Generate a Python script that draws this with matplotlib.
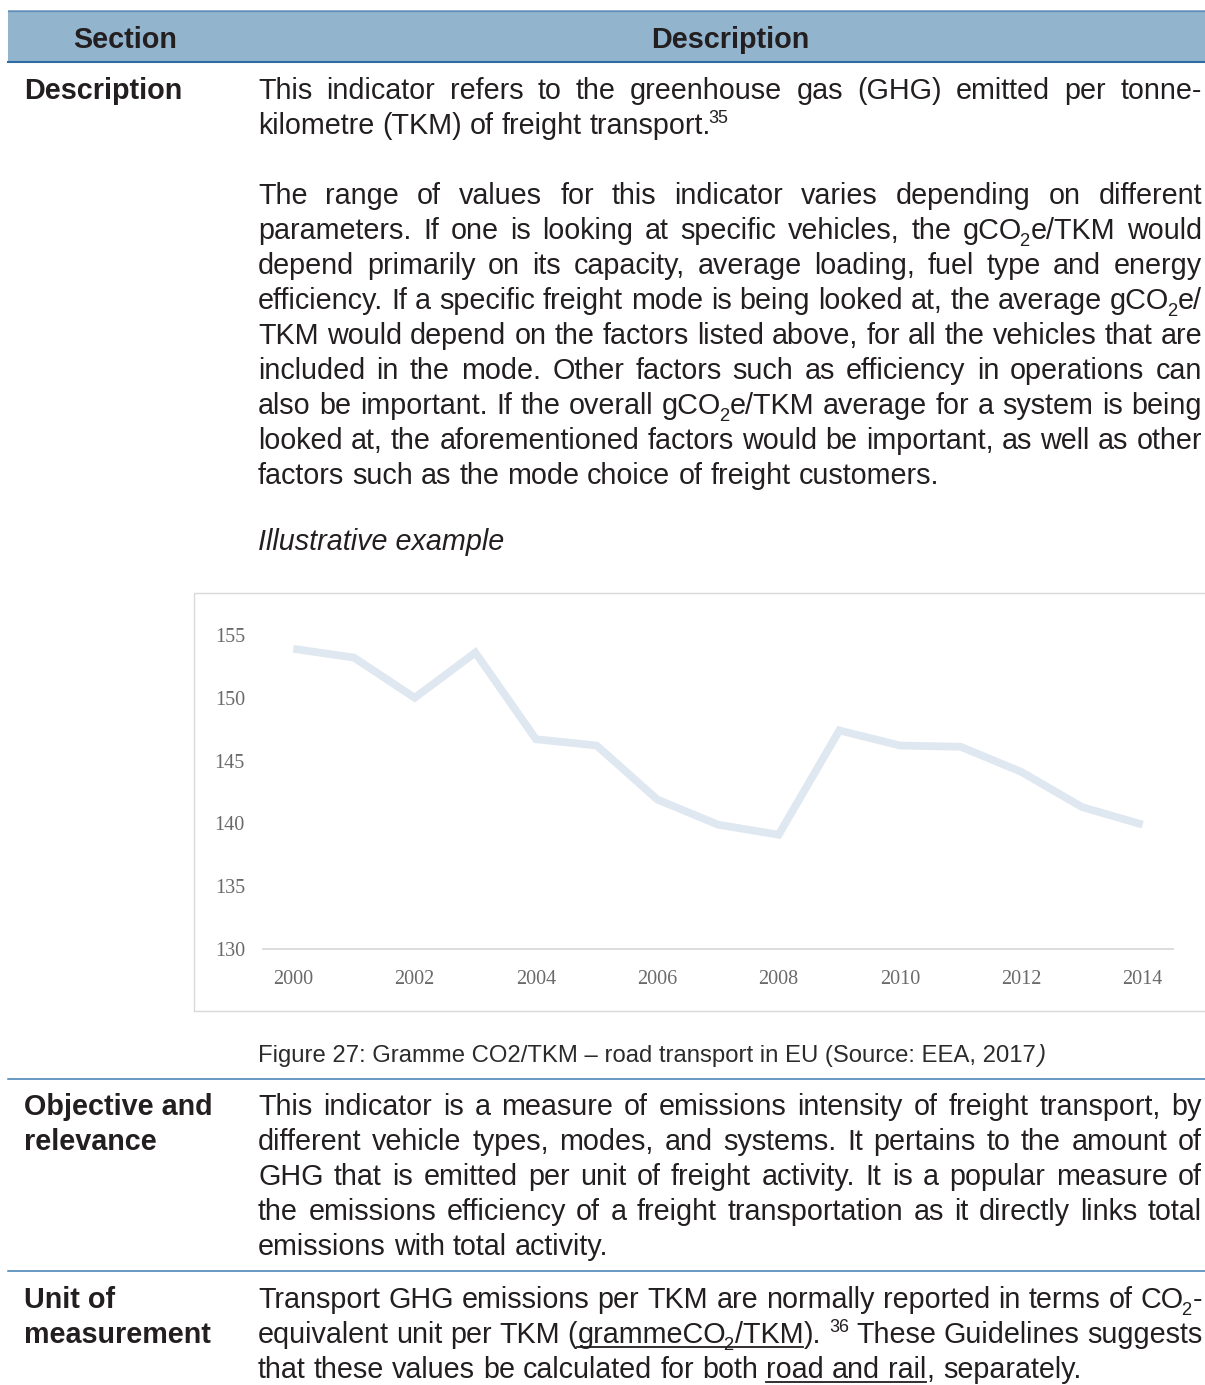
import re

import matplotlib

matplotlib.use("Agg")
import matplotlib.pyplot as plt
from matplotlib.patches import Rectangle

# chart data: gramme CO2 per TKM, road transport in EU
years = list(range(2000, 2015))
gco2_tkm = [153.9, 153.2, 150.0, 153.6, 146.7, 146.2, 141.9, 139.9, 139.1,
            147.4, 146.2, 146.1, 144.1, 141.3, 139.9]
y_ticks = [130, 135, 140, 145, 150, 155]

header_cols = ["Section", "Description"]
caption = "Figure 27: Gramme CO2/TKM \u2013 road transport in EU (Source: EEA, 2017"

# ~ toggles underline, _{..} subscript, ^{..} superscript; (text, justify)
desc_lines = [
    ("This indicator refers to the greenhouse gas (GHG) emitted per tonne-", True),
    ("kilometre (TKM) of freight transport.^{35}", False),
    (None, False),
    ("The range of values for this indicator varies depending on different", True),
    ("parameters. If one is looking at specific vehicles, the gCO_{2}e/TKM would", True),
    ("depend primarily on its capacity, average loading, fuel type and energy", True),
    ("efficiency. If a specific freight mode is being looked at, the average gCO_{2}e/", True),
    ("TKM would depend on the factors listed above, for all the vehicles that are", True),
    ("included in the mode. Other factors such as efficiency in operations can", True),
    ("also be important. If the overall gCO_{2}e/TKM average for a system is being", True),
    ("looked at, the aforementioned factors would be important, as well as other", True),
    ("factors such as the mode choice of freight customers.", False),
]
objective_lines = [
    ("This indicator is a measure of emissions intensity of freight transport, by", True),
    ("different vehicle types, modes, and systems. It pertains to the amount of", True),
    ("GHG that is emitted per unit of freight activity. It is a popular measure of", True),
    ("the emissions efficiency of a freight transportation as it directly links total", True),
    ("emissions with total activity.", False),
]
unit_lines = [
    ("Transport GHG emissions per TKM are normally reported in terms of CO_{2}-", True),
    ("equivalent unit per TKM (~grammeCO_{2}/TKM~). ^{36} These Guidelines suggests", True),
    ("that these values be calculated for both ~road and rail~, separately.", False),
]

W, H = 1205, 1385
PX = 100 / 72  # pixels per point
INK = "#231f20"
BODY = 20.7
LEAD = 35
X_TEXT, X_RIGHT, X_LABEL = 258, 1202, 24
SANS = "Liberation Sans"

fig = plt.figure(figsize=(W / 100, H / 100), dpi=100)
renderer = fig.canvas.get_renderer()
page = fig.add_axes([0, 0, 1, 1])
page.set_xlim(0, W)
page.set_ylim(H, 0)
page.axis("off")

TOKEN = re.compile(r"~|_\{[^}]*\}|\^\{[^}]*\}|[^~_^]+")


def put(x, y, s, size, **kw):
    kw.setdefault("color", INK)
    kw.setdefault("family", SANS)
    return page.text(x, y, s, fontsize=size, va="baseline", ha="left", **kw)


def width_of(t):
    return t.get_window_extent(renderer).width


def space_width(size, **kw):
    a = put(0, -100, "x x", size, **kw)
    b = put(0, -100, "xx", size, **kw)
    w = width_of(a) - width_of(b)
    a.remove()
    b.remove()
    return w


def draw_line(line, y, justify, size=BODY, x0=X_TEXT, x1=X_RIGHT, state=None, **kw):
    words = []
    for word in line.split(" "):
        segs = []
        for tok in TOKEN.findall(word):
            if tok == "~":
                state["u"] = not state["u"]
                continue
            small = tok[:2] in ("_{", "^{")
            if tok.startswith("_{"):
                txt, fs, dy = tok[2:-1], size * 0.64, size * PX * 0.26
            elif tok.startswith("^{"):
                txt, fs, dy = tok[2:-1], size * 0.62, -size * PX * 0.38
            else:
                txt, fs, dy = tok, size, 0
            t = put(0, y + dy, txt, fs, **kw)
            # pull a sub/superscript in against the glyph before it
            segs.append((t, width_of(t), state["u"], -2.5 if small else 1.0))
        words.append(segs)
    widths = [sum(s[1] for s in segs) + sum(s[3] for s in segs[1:]) for segs in words]
    if justify and len(words) > 1:
        gap = (x1 - x0 - sum(widths)) / (len(words) - 1)
    else:
        gap = space_width(size, **kw)
    x = x0
    ul = None
    for segs in words:
        for i, (t, sw, under, join) in enumerate(segs):
            if i:
                x += join
            t.set_x(x)
            if under:
                ul = (ul[0] if ul else x, x + sw)
            elif ul:
                page.plot(ul, [y + 4, y + 4], color=kw.get("color", INK), lw=1.3)
                ul = None
            x += sw
        x += gap
    if ul:
        page.plot(ul, [y + 4, y + 4], color=kw.get("color", INK), lw=1.3)


def draw_block(lines, y0):
    state = {"u": False}
    for i, (line, justify) in enumerate(lines):
        if line:
            draw_line(line, y0 + i * LEAD, justify, state=state)


# header band and row rules
page.add_patch(Rectangle((8, 10), W - 8, 52, facecolor="#92b4cd", edgecolor="none"))
page.plot([8, W], [10.5, 10.5], color="#5e8fb8", lw=0.9)
page.plot([8, W], [62, 62], color="#2f6ca1", lw=1.5)
for y in (1079, 1271):
    page.plot([8, W], [y, y], color="#3f7db3", lw=1.1)
for x, s in zip((125, 730), header_cols):
    page.text(x, 48, s, fontsize=BODY, weight="bold", family=SANS, color=INK,
              ha="center", va="baseline")

# left column labels
for y, s in ((99, "Description"), (1115, "Objective and"), (1150, "relevance"),
             (1308, "Unit of"), (1343, "measurement")):
    put(X_LABEL, y, s, BODY, weight="bold")

draw_block(desc_lines, 99)
put(X_TEXT, 550, "Illustrative example", BODY, style="italic")
draw_block(objective_lines, 1115)
draw_block(unit_lines, 1308)

cap = put(X_TEXT, 1062, caption, 17.2, color="#2b2b2b")
put(X_TEXT + width_of(cap) + 1, 1062, ")", 17.2, color="#2b2b2b", style="italic")

# chart frame
page.add_patch(Rectangle((193.5, 592.5), W, 418, facecolor="white",
                         edgecolor="#d9d9d9", lw=1.0))

ax = fig.add_axes([263 / W, (H - 949) / H, (1173 - 263) / W, (949 - 635) / H])
ax.patch.set_alpha(0)
xs = list(range(len(years)))
ax.plot(xs, gco2_tkm, color="#dfe8f1", lw=5.6, solid_joinstyle="miter",
        solid_capstyle="butt", clip_on=False)
ax.set_xlim(-0.5, len(years) - 0.5)
ax.set_ylim(y_ticks[0], y_ticks[-1])
ax.set_yticks(y_ticks)
ax.set_xticks(xs[::2])
ax.set_xticklabels([str(y) for y in years[::2]])
for side in ("top", "left", "right"):
    ax.spines[side].set_visible(False)
ax.spines["bottom"].set_color("#d9d9d9")
ax.spines["bottom"].set_linewidth(1.3)
ax.tick_params(length=0, labelsize=14.5, labelcolor="#6a6a6a")
ax.tick_params(axis="y", pad=13)
ax.tick_params(axis="x", pad=15)
for lab in ax.get_xticklabels() + ax.get_yticklabels():
    lab.set_family("Liberation Serif")

fig.savefig("out.png", dpi=100)
